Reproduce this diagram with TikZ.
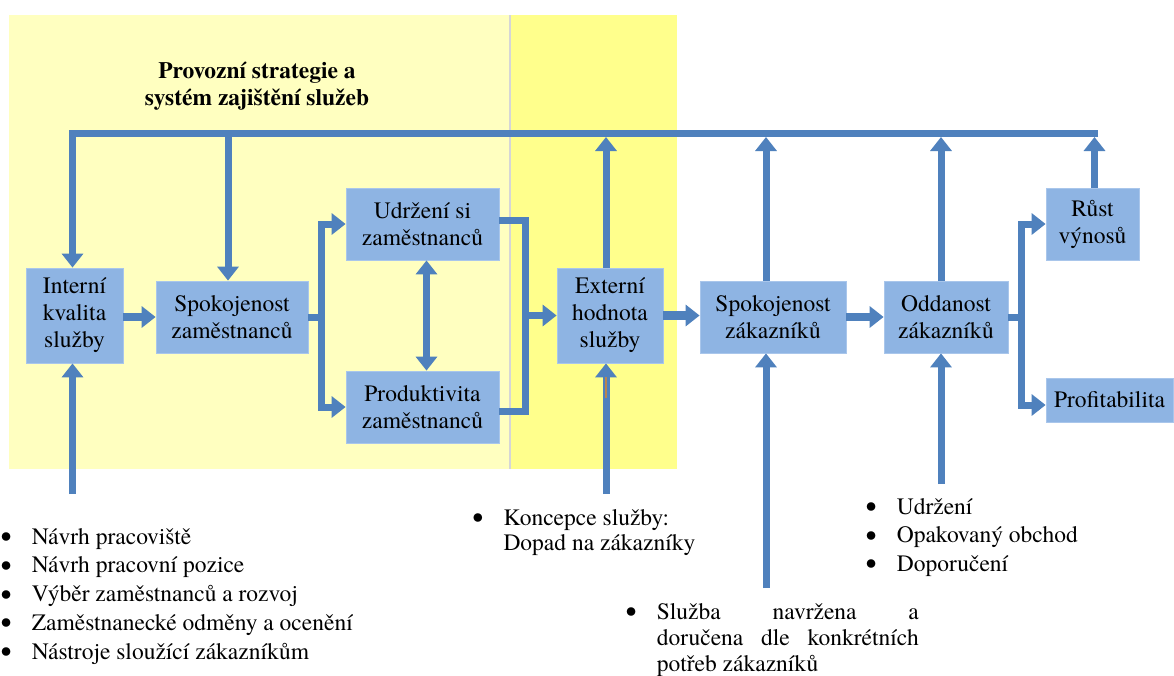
\documentclass[tikz,border=0pt]{standalone}
\usepackage{fontspec}
\setmainfont{texgyretermes}[Extension=.otf,UprightFont=*-regular,BoldFont=*-bold,ItalicFont=*-italic,BoldItalicFont=*-bolditalic]
\usetikzlibrary{arrows.meta}

\definecolor{paleyellow}{HTML}{FFFFC0}
\definecolor{brightyellow}{HTML}{FFFF8C}
\definecolor{boxblue}{HTML}{8EB4E3}
\definecolor{boxedge}{HTML}{A9C6EB}
\definecolor{flowblue}{HTML}{4F81BD}
\definecolor{divider}{HTML}{D6D6D6}
\definecolor{stray}{HTML}{B9854F}

\newcommand\diagboxfont{\fontsize{23.5pt}{27pt}\selectfont}
\newcommand\diagtitlefont{\fontsize{23.5pt}{27pt}\selectfont\bfseries}
\newcommand\diaglistfont[1]{\fontsize{23.5pt}{#1}\selectfont}
% a slightly larger, lower list bullet of unchanged width and no height
\newcommand\listbullet{\makebox[8.2pt][c]{\smash{\raisebox{-3.5pt}{\scalebox{1.35}{•}}}}}

\begin{document}
\begin{tikzpicture}[x=1pt,y=-1pt,
  stagebox/.style={fill=boxblue,draw=boxedge,line width=0.8pt,inner sep=0pt,align=center,font=\diagboxfont},
  flow/.style={draw=flowblue,line width=7pt,line join=miter},
  flowarr/.style={flow,-{Triangle[width=21pt,length=14pt]}},
  mainarr/.style={flowarr,line width=8.5pt},
  twoway/.style={flow,{Triangle[width=21pt,length=14pt]}-{Triangle[width=21pt,length=14pt]}},
  listtext/.style={anchor=base west,inner sep=0pt,align=left},
]
% canvas
\fill[white] (0,0) rectangle (1174,675);
\useasboundingbox (0,0) rectangle (1174,675);

% shaded zones
\fill[paleyellow] (9,15) rectangle (510,469.3);
\fill[brightyellow] (510,15) rectangle (677.3,469.3);
\draw[divider,line width=1.7pt] (510,15) -- (510,469.3);

% title
\node[anchor=base,inner sep=0pt,font=\diagtitlefont] (title) at (257,78.5)
  {\begin{tabular}[t]{@{}c@{}}Provozní strategie a\\systém zajištění služeb\end{tabular}};

% stages
\node[stagebox,minimum width=97pt,minimum height=95pt] (interni) at (74.5,315.5) {Interní\\kvalita\\služby};
\node[stagebox,minimum width=152pt,minimum height=72pt] (spokz) at (232,317) {Spokojenost\\zaměstnanců};
\node[stagebox,minimum width=153pt,minimum height=72pt] (udrzeni) at (422.5,224) {Udržení si\\zaměstnanců};
\node[stagebox,minimum width=153pt,minimum height=72pt] (prod) at (422.5,407) {Produktivita\\zaměstnanců};
\node[stagebox,minimum width=106pt,minimum height=95pt] (externi) at (610,315.5) {Externí\\hodnota\\služby};
\node[stagebox,minimum width=146pt,minimum height=72pt] (spokzak) at (773,317) {Spokojenost\\zákazníků};
\node[stagebox,minimum width=124pt,minimum height=72pt] (oddanost) at (946,317) {Oddanost\\zákazníků};
\node[stagebox,minimum width=93pt,minimum height=72pt] (rust) at (1092.5,224) {Růst\\výnosů};
\node[stagebox,minimum width=127pt,minimum height=44pt] (profit) at (1109.5,400) {Profitabilita};

% feedback bus along the top
\coordinate (busL) at (72.5,133.5);
\coordinate (busR) at (1098,133.5);
\coordinate (busS) at (228,133.5);
\coordinate (tE) at (606,137);
\coordinate (tS) at (766,137);
\coordinate (tO) at (941,137);
\coordinate (tR) at (1094.5,137);
\draw[flowarr] (busR) -- (busL) -- (busL |- interni.north);
\draw[flowarr] (busS) -- (busS |- spokz.north);
\draw[flowarr] (tE |- externi.north) -- (tE);
\draw[flowarr] (tS |- spokzak.north) -- (tS);
\draw[flowarr] (tO |- oddanost.north) -- (tO);
\draw[flowarr] (tR |- rust.north) -- (tR);

% inputs from below
\coordinate (fI) at (72.5,494);
\coordinate (fE) at (606,494);
\coordinate (fS) at (766,588);
\coordinate (fO) at (941,484);
\draw[flowarr] (fI) -- (fI |- interni.south);
\draw[flowarr] (fE) -- (fE |- externi.south);
\draw[flowarr] (fS) -- (fS |- spokzak.south);
\draw[flowarr] (fO) -- (fO |- oddanost.south);
\draw[stray,line width=1.5pt] (606,377) -- (606,398);

% main chain
\draw[mainarr] (interni.east |- spokz) -- (spokz.west);
\coordinate (jL) at (321.5,317);
\draw[flow] (spokz.east) -- (jL);
\draw[flowarr] (jL) |- (udrzeni.west);
\draw[flowarr] (jL) |- (prod.west);
\draw[twoway] ([xshift=4pt]udrzeni.south) -- ([xshift=4pt]prod.north);
\coordinate (jR) at (525.5,315.5);
\draw[flow] ([yshift=4pt]udrzeni.east) -| (jR);
\draw[flow] ([yshift=-4pt]prod.east) -| (jR);
\draw[flowarr] (jR) -- (externi.west);
\draw[mainarr] (externi.east) -- (externi.east -| spokzak.west);
\draw[mainarr] (spokzak.east) -- (oddanost.west);
\coordinate (jO) at (1021.5,317);
\draw[flow] (oddanost.east) -- (jO);
\draw[flowarr] (jO) |- (rust.west);
\draw[flowarr] (jO) |- ([yshift=-5pt]profit.west);

% bullet lists
\node[listtext,font={\diaglistfont{28.75pt}}] (workplace) at (1.9,544)
  {\begin{tabular}[t]{@{}l@{\hspace{21.5pt}}l@{}}
   \listbullet&Návrh pracoviště\\
   \listbullet&Návrh pracovní pozice\\
   \listbullet&Výběr zaměstnanců a rozvoj\\
   \listbullet&Zaměstnanecké odměny a ocenění\\
   \listbullet&Nástroje sloužící zákazníkům
   \end{tabular}};
\node[listtext,font={\diaglistfont{25.7pt}}] (concept) at (473.6,525)
  {\begin{tabular}[t]{@{}l@{\hspace{21.5pt}}l@{}}
   \listbullet&Koncepce služby:\\
    &Dopad na zákazníky
   \end{tabular}};
\node[listtext,font={\diaglistfont{26.3pt}}] (design) at (626.9,619.3)
  {\begin{tabular}[t]{@{}l@{\hspace{21.5pt}}l@{}}
   \listbullet&\makebox[262pt][s]{Služba navržena a}\\
    &\makebox[262pt][s]{doručena dle konkrétních}\\
    &potřeb zákazníků
   \end{tabular}};
\node[listtext,font={\diaglistfont{28.5pt}}] (loyalty) at (866.9,514)
  {\begin{tabular}[t]{@{}l@{\hspace{21.5pt}}l@{}}
   \listbullet&Udržení\\
   \listbullet&Opakovaný obchod\\
   \listbullet&Doporučení
   \end{tabular}};
\end{tikzpicture}
\end{document}
